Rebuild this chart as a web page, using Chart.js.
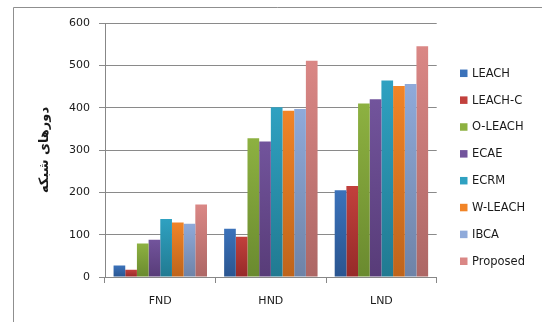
<!DOCTYPE html>
<html>
<head>
<meta charset="utf-8">
<script src="https://cdn.jsdelivr.net/npm/chart.js@4/dist/chart.umd.min.js"></script>
<style>
  html, body { margin: 0; padding: 0; background: #ffffff; }
  #wrap { width: 542px; height: 322px; position: relative; }
</style>
</head>
<body>
<div id="wrap"><canvas id="c" width="542" height="322"></canvas></div>
<script>
// Network lifetime milestones (rounds) per clustering protocol
const categories = ['FND', 'HND', 'LND'];
const protocols = ['LEACH', 'LEACH-C', 'O-LEACH', 'ECAE', 'ECRM', 'W-LEACH', 'IBCA', 'Proposed'];

const leach    = [27, 114, 205];
const leachC   = [17, 95, 215];
const oLeach   = [79, 328, 410];
const ecae     = [88, 320, 420];
const ecrm     = [137, 401, 464];
const wLeach   = [129, 393, 451];
const ibca     = [126, 397, 456];
const proposed = [171, 511, 545];

const yTicks = [0, 100, 200, 300, 400, 500, 600];
const yTitle = 'دورهای شبکه';

// top / bottom shade of each bar's vertical gradient
const shades = [
  ['#3b72ba', '#2a5590'],
  ['#c2403c', '#962a29'],
  ['#8db141', '#6a8a2f'],
  ['#72549c', '#583c78'],
  ['#2fa1c1', '#217a91'],
  ['#f18427', '#be641b'],
  ['#8faada', '#6e83a7'],
  ['#da8785', '#ad6765']
];

const seriesValues = [leach, leachC, oLeach, ecae, ecrm, wLeach, ibca, proposed];

function barGradient(idx) {
  return function (ctx) {
    const chart = ctx.chart;
    const area = chart.chartArea;
    if (!area || ctx.type !== 'data') return shades[idx][0];
    const y = chart.scales.y;
    const top = y.getPixelForValue(ctx.raw);
    const base = y.getPixelForValue(0);
    const g = chart.ctx.createLinearGradient(0, top, 0, base);
    g.addColorStop(0, shades[idx][0]);
    g.addColorStop(1, shades[idx][1]);
    return g;
  };
}

const datasets = protocols.map((name, i) => ({
  label: name,
  data: seriesValues[i],
  backgroundColor: barGradient(i),
  borderWidth: 0,
  categoryPercentage: 0.845,
  barPercentage: 1.0
}));

const FONT = 'DejaVu Sans';

// legend on the right side and the outer frame line
const sideLegend = {
  id: 'sideLegend',
  afterDraw(chart) {
    const ctx = chart.ctx;
    ctx.save();
    // frame
    ctx.strokeStyle = '#8f8f8f';
    ctx.lineWidth = 1;
    ctx.beginPath();
    ctx.moveTo(13.5, 322);
    ctx.lineTo(13.5, 7.5);
    ctx.lineTo(542, 7.5);
    ctx.stroke();
    // legend entries
    const x0 = 460, firstY = 73.3, step = 26.85, box = 7.5;
    ctx.font = '11.5px "' + FONT + '"';
    ctx.textBaseline = 'middle';
    ctx.textAlign = 'left';
    chart.data.datasets.forEach((ds, i) => {
      const cy = firstY + i * step;
      ctx.fillStyle = shades[i][0];
      ctx.fillRect(x0, cy - box / 2, box, box);
      ctx.fillStyle = '#1a1a1a';
      ctx.fillText(ds.label, x0 + 12, cy + 0.5);
    });
    ctx.restore();
  }
};

new Chart(document.getElementById('c'), {
  type: 'bar',
  data: { labels: categories, datasets: datasets },
  options: {
    responsive: false,
    animation: false,
    devicePixelRatio: 1,
    layout: { padding: { left: 0, right: 105.3, top: 23, bottom: 0 } },
    plugins: {
      legend: { display: false },
      tooltip: { enabled: false }
    },
    scales: {
      x: {
        grid: {
          display: true,
          drawOnChartArea: false,
          drawTicks: true,
          tickLength: 6,
          color: '#878787',
          offset: true
        },
        border: { display: true, color: '#878787' },
        ticks: {
          color: '#1a1a1a',
          font: { family: FONT, size: 11 },
          padding: 12
        },
        afterFit(scale) { scale.height = 45; }
      },
      y: {
        min: 0,
        max: 600,
        afterBuildTicks(scale) { scale.ticks = yTicks.map(v => ({ value: v })); },
        grid: {
          color: '#8a8a8a',
          tickLength: 6,
          lineWidth: 1
        },
        border: { display: true, color: '#878787' },
        ticks: {
          color: '#1a1a1a',
          font: { family: FONT, size: 11 },
          padding: 9
        },
        title: {
          display: true,
          text: yTitle,
          color: '#1a1a1a',
          font: { family: FONT, size: 13, weight: 'bold' },
          padding: { top: 37, bottom: 0 }
        },
        afterFit(scale) { scale.width = 105; }
      }
    }
  },
  plugins: [sideLegend]
});
</script>
</body>
</html>
